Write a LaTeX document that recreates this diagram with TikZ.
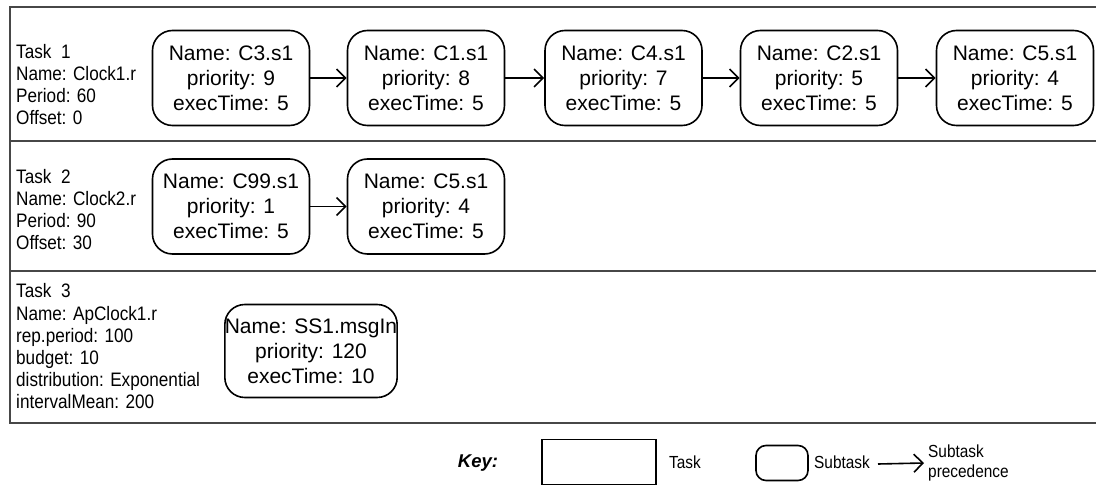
\documentclass[tikz,border=0pt]{standalone}
\usepackage{fontspec}
\setmainfont{Liberation Sans}
\newfontfamily\narrowfont[FakeStretch=0.88]{Liberation Sans}
\usetikzlibrary{arrows.meta}
\begin{document}
\begin{tikzpicture}[x=1pt,y=-1pt,
  sub/.style={draw, line width=1.6pt, rounded corners=20pt, minimum width=157pt,
    minimum height=95pt, align=center, inner sep=0pt,
    font=\fontsize{21}{25}\selectfont},
  lbl/.style={align=left, anchor=west, inner sep=0pt,
    font=\narrowfont\fontsize{19.5}{21.7}\selectfont},
  prec/.style={-{Straight Barb[length=9pt,width=18pt,line width=1.6pt]}, line width=1.6pt},
  rowline/.style={draw=black!72, line width=2pt},
  keytxt/.style={inner sep=0pt, align=left, font=\narrowfont\fontsize{17.5}{20}\selectfont}]
\useasboundingbox (0,0) rectangle (1096,486);
% task rows
\draw[rowline] (1096,7) -- (10,7) -- (10,423) -- (1096,423);
\draw[rowline] (10,141) -- (1096,141);
\draw[rowline] (10,271) -- (1096,271);
% labels
\node[lbl] (t1) at (16,84.5) {Task\ \ 1\\Name: Clock1.r\\Period: 60\\Offset: 0};
\node[lbl] (t2) at (16,209.5) {Task\ \ 2\\Name: Clock2.r\\Period: 90\\Offset: 30};
\node[lbl, font=\narrowfont\fontsize{19.5}{22.2}\selectfont] (t3) at (16,346.5) {Task\ \ 3\\Name: ApClock1.r\\rep.period: 100\\budget: 10\\distribution: Exponential\\intervalMean: 200};
% row 1
\node[sub] (a1) at (231,78) {Name: C3.s1\\priority: 9\\execTime: 5};
\node[sub] (a2) at (426,78) {Name: C1.s1\\priority: 8\\execTime: 5};
\node[sub] (a3) at (623.5,78) {Name: C4.s1\\priority: 7\\execTime: 5};
\node[sub] (a4) at (819,78) {Name: C2.s1\\priority: 5\\execTime: 5};
\node[sub] (a5) at (1015,78) {Name: C5.s1\\priority: 4\\execTime: 5};
\draw[prec] (a1) -- (a2);
\draw[prec] (a2) -- (a3);
\draw[prec] (a3) -- (a4);
\draw[prec] (a4) -- (a5);
% row 2
\node[sub] (b1) at (231,206.5) {Name: C99.s1\\priority: 1\\execTime: 5};
\node[sub] (b2) at (426,206.5) {Name: C5.s1\\priority: 4\\execTime: 5};
\draw[prec] (b1) -- (b2);
% row 3
\node[sub, minimum width=147pt, minimum height=93pt] (c1) at (311,351) {Name: SS1.msgIn\\priority: 120\\execTime: 10};
% key
\node[inner sep=0pt, font=\fontsize{18.5}{21}\selectfont\bfseries\itshape] (key) at (478,463) {Key:};
\node[draw, line width=1.3pt, minimum width=114pt, minimum height=45pt, inner sep=0pt] (ktask) at (599,462) {};
\node[keytxt, anchor=west] (ktasktxt) at (669,462) {Task};
\node[draw, line width=1.6pt, rounded corners=10pt, minimum width=52pt, minimum height=35pt, inner sep=0pt] (ksub) at (782,463) {};
\node[keytxt, anchor=west] (ksubtxt) at (814,462) {Subtask};
\coordinate (ka) at (878,464);
\node[keytxt, anchor=west] (kprec) at (928,463) {Subtask\\precedence};
\draw[prec] (ka) -- ([xshift=-4pt]kprec.west);
\end{tikzpicture}
\end{document}
